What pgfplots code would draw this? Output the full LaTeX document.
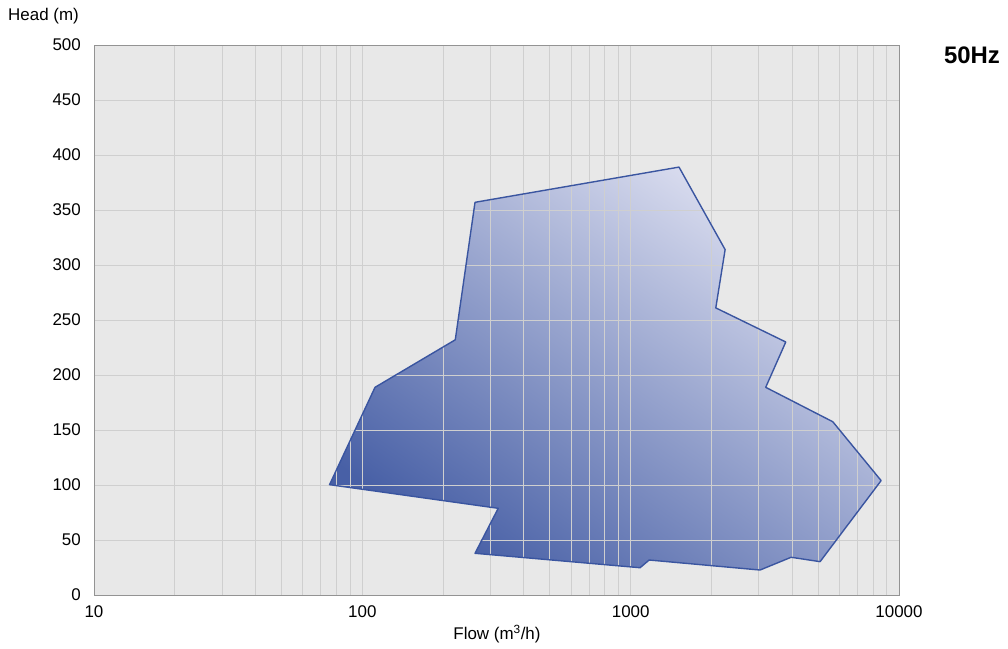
\documentclass[border=0pt]{standalone}
\usepackage{pgfplots}
\pgfplotsset{compat=1.18}
\usepackage{fontspec}
\setmainfont{Liberation Sans}
\definecolor{bggray}{HTML}{E8E8E8}
\definecolor{gridgray}{HTML}{CFCFCF}
\definecolor{darkblue}{HTML}{4860A6}
\definecolor{lightblue}{HTML}{E0E2F2}
\definecolor{edgeblue}{HTML}{3A55A0}
\pgfdeclarelayer{polyfill}
\pgfplotsset{
  layers/my set/.define layer set={
    axis background,polyfill,axis grid,axis ticks,axis lines,axis tick labels,pre main,main,axis descriptions,axis foreground
  }{/pgfplots/layers/standard},
}
\begin{document}
\begin{tikzpicture}
\path (0,0) rectangle (1008bp,649bp);
\begin{axis}[
  set layers=my set,
  at={(94bp,54bp)}, anchor=south west,
  scale only axis, width=805bp, height=550bp,
  xmode=log, log basis x=10,
  xmin=10, xmax=10000, ymin=0, ymax=500,
  xtick={10,100,1000,10000},
  xticklabels={10,100,1000,10000},
  minor xtick={20,30,40,50,60,70,80,90,200,300,400,500,600,700,800,900,2000,3000,4000,5000,6000,7000,8000,9000},
  ytick={0,50,...,500},
  yticklabels={0,50,100,150,200,250,300,350,400,450,500},
  grid=both,
  major grid style={draw=gridgray, line width=0.9pt},
  minor grid style={draw=gridgray, line width=0.9pt},
  major tick length=0pt, minor tick length=0pt,
  axis background/.style={fill=bggray},
  axis line style={draw=gray!85, line width=1pt},
  xticklabel style={anchor=north, inner sep=0pt, yshift=-10bp, font=\fontsize{17}{20}\selectfont},
  yticklabel style={anchor=east, inner sep=0pt, xshift=-13bp, font=\fontsize{17}{20}\selectfont},
]
\addplot[draw=none, on layer=polyfill, top color=lightblue, bottom color=darkblue, shading angle=-35] coordinates {
  (75.5,100.3) (111.5,188.8) (222,232) (263,357) (1514,389) (2249,314)
  (2076,261) (3785,230) (3186,188.8) (5666,157.5) (8577,104) (5080,30.3)
  (3963,34.3) (3035,22.7) (1172,31.8) (1084,24.8) (263,37.9) (321,78.8) (75.5,100.3)
} -- cycle;
\addplot[draw=edgeblue, line width=1.4pt, line join=round] coordinates {
  (75.5,100.3) (111.5,188.8) (222,232) (263,357) (1514,389) (2249,314)
  (2076,261) (3785,230) (3186,188.8) (5666,157.5) (8577,104) (5080,30.3)
  (3963,34.3) (3035,22.7) (1172,31.8) (1084,24.8) (263,37.9) (321,78.8) (75.5,100.3)
} -- cycle;
\end{axis}
\node[anchor=west, inner sep=0pt, font=\fontsize{17}{20}\selectfont] at (8bp,633bp) {Head (m)};
\node[inner sep=0pt, font=\fontsize{17}{20}\selectfont] at (497bp,15bp) {Flow (m\textsuperscript{3}/h)};
\node[inner sep=0pt, font=\bfseries\fontsize{24}{28}\selectfont] at (972bp,594bp) {50Hz};
\end{tikzpicture}
\end{document}
